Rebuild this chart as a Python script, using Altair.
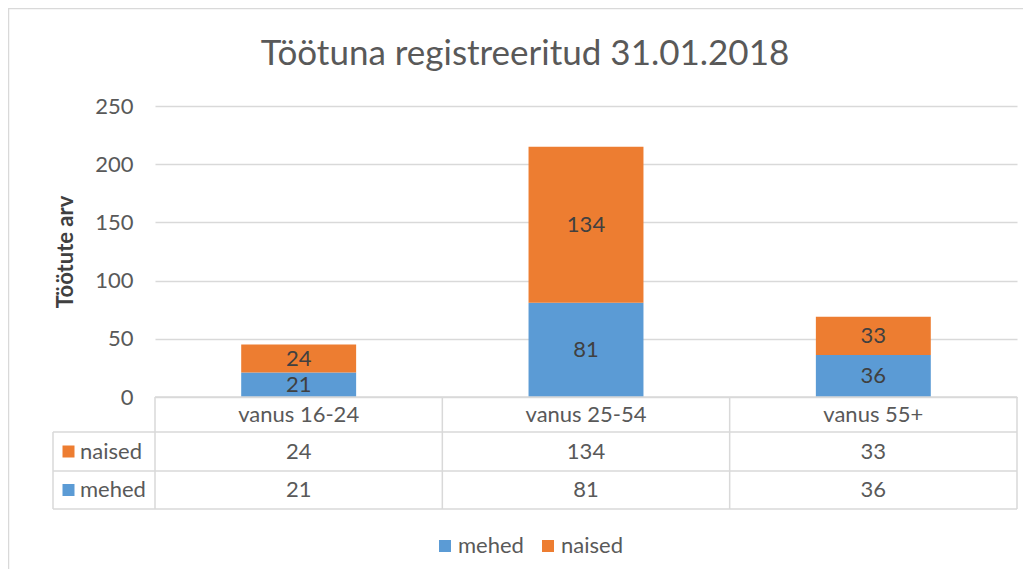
import altair as alt
import pandas as pd

# ---- data ----
categories = ["vanus 16-24", "vanus 25-54", "vanus 55+"]
series = ["mehed", "naised"]
mehed = [21, 81, 36]
naised = [24, 134, 33]
y_ticks = [0, 50, 100, 150, 200, 250]
colors = ["#5B9BD5", "#ED7D31"]
title_text = "Töötuna registreeritud 31.01.2018"
y_title = "Töötute arv"

rows = []
for i, c in enumerate(categories):
    for s_i, (s, vals) in enumerate(zip(series, [mehed, naised])):
        rows.append({"cat": c, "idx": i, "series": s, "order": s_i, "value": vals[i]})
df = pd.DataFrame(rows)
cat_df = pd.DataFrame({"cat": categories, "idx": list(range(len(categories)))})
bound_df = pd.DataFrame({"b": list(range(len(categories) + 1))})
one = pd.DataFrame({"a": [0]})

# ---- layout / style ----
W, H = 862, 291
FONT = "Lato"
TXT = "#595959"
DARK = "#404040"
GRID = "#d9d9d9"
FS = 22

xscale = alt.Scale(domain=[0, len(categories)], nice=False, zero=False)
yscale = alt.Scale(domain=[0, 250], nice=False)
cscale = alt.Scale(domain=series, range=colors)

stacked = (
    alt.Chart(df)
    .transform_stack(stack="value", groupby=["cat"], as_=["v0", "v1"],
                     sort=[alt.SortField("order")])
    .transform_calculate(xa="datum.idx + 0.3", xb="datum.idx + 0.7",
                         xm="datum.idx + 0.5", vm="(datum.v0 + datum.v1) / 2")
)

bars = stacked.mark_bar().encode(
    x=alt.X("xa:Q", scale=xscale, axis=None),
    x2="xb:Q",
    y=alt.Y("v0:Q", scale=yscale, axis=alt.Axis(
        values=y_ticks, domain=False, ticks=False, tickSize=0, labelPadding=22,
        labelFontSize=FS, labelColor=TXT, labelFont=FONT,
        gridColor=GRID, gridWidth=1.3,
        title=y_title, titleFont=FONT, titleFontSize=FS, titleFontWeight="bold",
        titleColor=DARK, titleAngle=270, titleX=-90, titleY=H / 2,
        titleAlign="center", titleBaseline="middle")),
    y2="v1:Q",
    color=alt.Color("series:N", scale=cscale, legend=alt.Legend(
        orient="none", legendX=279, legendY=429, direction="horizontal",
        title=None, symbolType="square", symbolSize=144, symbolStrokeWidth=0,
        labelFontSize=FS, labelFont=FONT, labelColor=TXT, labelOffset=2,
        columnPadding=13)),
)

bar_labels = stacked.mark_text(font=FONT, fontSize=FS, color=DARK).encode(
    x=alt.X("xm:Q", scale=xscale, axis=None),
    y=alt.Y("vm:Q", scale=yscale),
    text="value:Q",
)

# ---- data table under the plot ----
header = alt.Chart(cat_df).transform_calculate(xm="datum.idx + 0.5").mark_text(
    font=FONT, fontSize=FS, color=TXT).encode(
    x=alt.X("xm:Q", scale=xscale, axis=None), y=alt.value(309), text="cat:N")

row_y = {"naised": 345.5, "mehed": 384}
table_layers = []
for s, col in zip(series, colors):
    yy = row_y[s]
    vals = stacked.transform_filter(alt.datum.series == s).mark_text(
        font=FONT, fontSize=FS, color=TXT).encode(
        x=alt.X("xm:Q", scale=xscale, axis=None), y=alt.value(yy), text="value:Q")
    key = alt.Chart(pd.DataFrame({"series": [s]})).mark_square(
        size=144, color=col, opacity=1).encode(x=alt.value(-86.5), y=alt.value(yy))
    key_txt = alt.Chart(pd.DataFrame({"series": [s]})).mark_text(
        font=FONT, fontSize=FS, color=TXT, align="left").encode(
        x=alt.value(-75), y=alt.value(yy), text="series:N")
    table_layers += [vals, key, key_txt]

vlines = alt.Chart(bound_df).mark_rule(color=GRID, strokeWidth=1.5).encode(
    x=alt.X("b:Q", scale=xscale, axis=None), y=alt.value(H), y2=alt.value(403))

hlines = []
for yy in [326, 365, 403]:
    hlines.append(alt.Chart(one).mark_rule(color=GRID, strokeWidth=1.5).encode(
        x=alt.value(-102), x2=alt.value(W), y=alt.value(yy)))
hlines.append(alt.Chart(one).mark_rule(color=GRID, strokeWidth=1.5).encode(
    x=alt.value(0), x2=alt.value(W), y=alt.value(H)))
hlines.append(alt.Chart(one).mark_rule(color=GRID, strokeWidth=1.5).encode(
    x=alt.value(-102), y=alt.value(326), y2=alt.value(403)))

frame = alt.Chart(one).mark_rect(fillOpacity=0, stroke=GRID, strokeWidth=1.5).encode(
    x=alt.value(-146.5), y=alt.value(-97.5), x2=alt.value(2000), y2=alt.value(2000))

title = alt.Chart(one).mark_text(font=FONT, fontSize=35, color=TXT,
                                 baseline="alphabetic").encode(
    x=alt.value(370), y=alt.value(-41), text=alt.value(title_text))

chart = alt.layer(
    frame, title, bars, bar_labels, header, *table_layers, vlines, *hlines
).properties(
    width=W, height=H,
    autosize=alt.AutoSizeParams(type="none"),
    padding={"left": 147, "top": 98, "right": 6, "bottom": 172},
).configure_view(strokeWidth=0)

chart.save("out.html", embed_options={"renderer": "svg", "actions": False})
